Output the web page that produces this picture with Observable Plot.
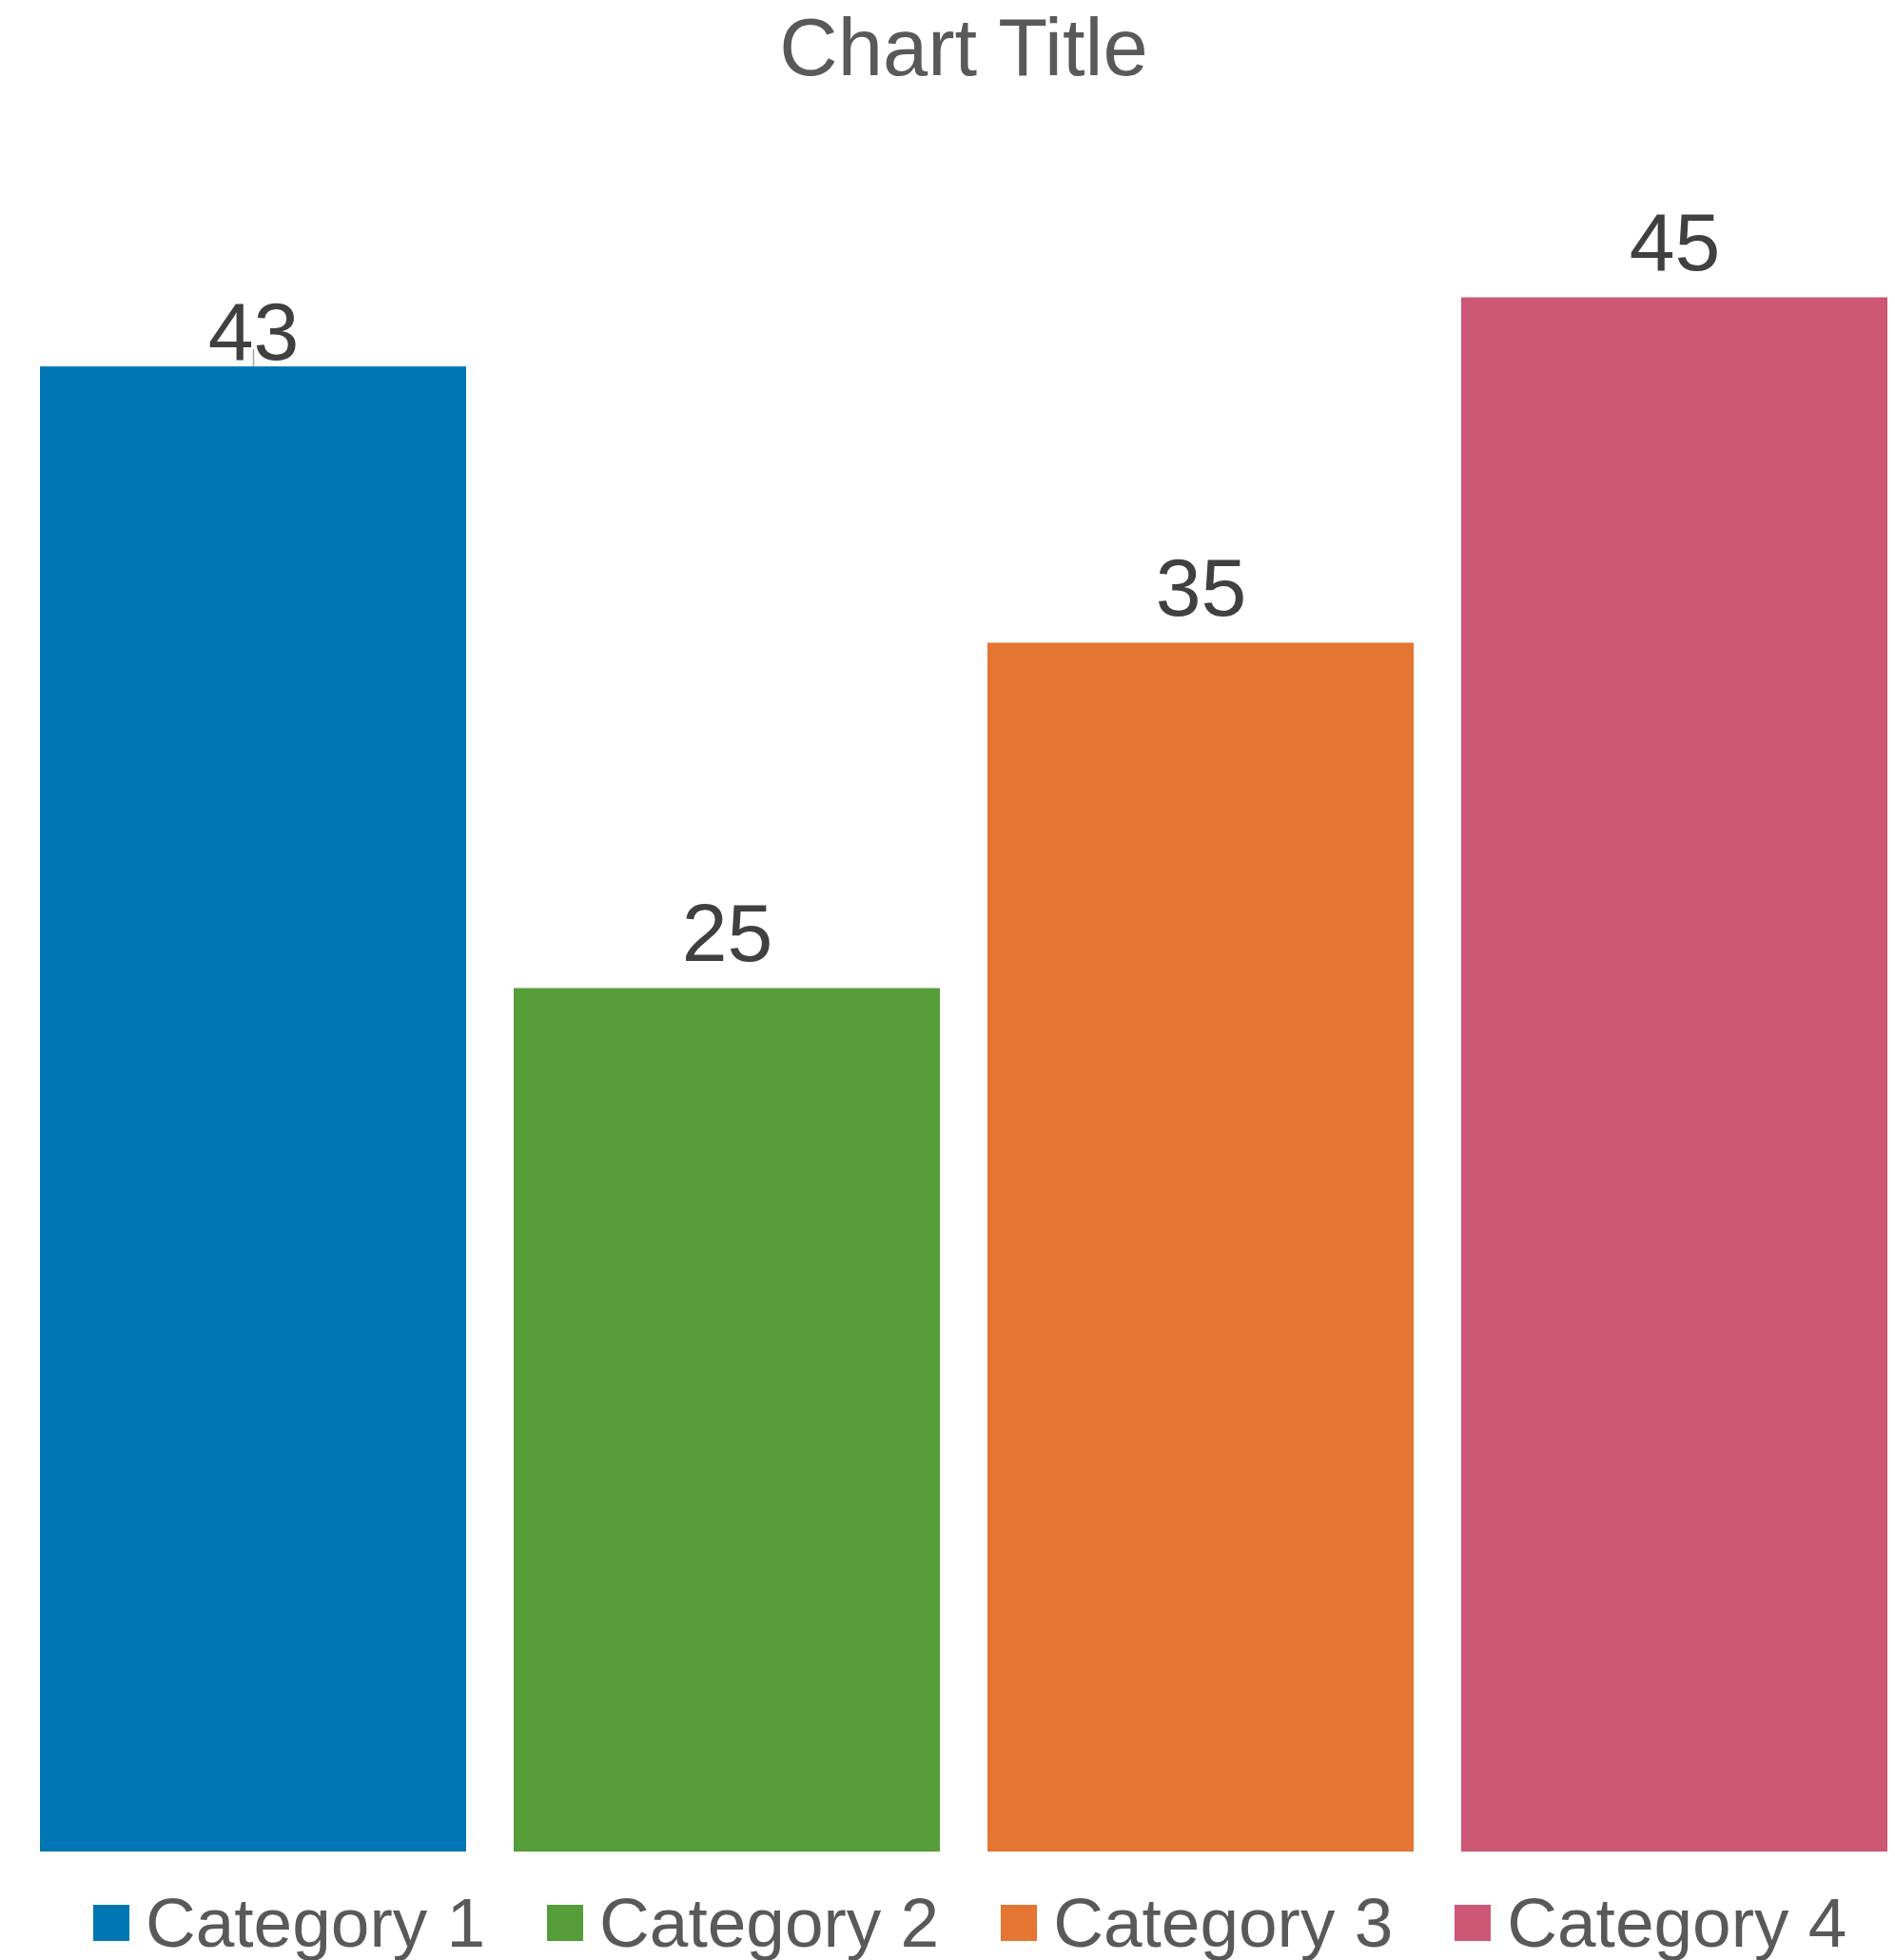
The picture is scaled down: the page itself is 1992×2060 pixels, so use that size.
<!DOCTYPE html>
<html>
<head>
<meta charset="utf-8">
<script src="https://cdn.jsdelivr.net/npm/d3@7"></script>
<script src="https://cdn.jsdelivr.net/npm/@observablehq/plot@0.6"></script>
<style>
  html, body { margin: 0; padding: 0; background: #ffffff; }
  body { width: 1992px; height: 2060px; overflow: hidden; font-family: "Liberation Sans", Arial, sans-serif; }
  #title { position: relative; height: 100px; width: 1992px; }
  #title span { position: absolute; left: 40px; right: 6px; top: 7px; text-align: center;
    font-size: 85px; line-height: 1; color: #595959; white-space: nowrap; }
  #chart svg { display: block; }
  #legend { height: 100px; box-sizing: border-box; padding-left: 98px; padding-top: 21px;
    display: flex; gap: 65px; align-items: center; }
  .item { display: flex; align-items: center; gap: 17px; font-size: 73px; line-height: 1; color: #595959; white-space: nowrap; }
  .sw { width: 38px; height: 38px; flex: none; }
</style>
</head>
<body>
<div id="title"><span>Chart Title</span></div>
<div id="chart"></div>
<div id="legend"></div>
<script>
const categories = ["Category 1", "Category 2", "Category 3", "Category 4"];
const values = [43, 25, 35, 45];
const colors = ["#0077B4", "#559D38", "#E57532", "#CE5775"];

const data = categories.map((c, i) => ({category: c, value: values[i]}));

const plot = Plot.plot({
  width: 1992,
  height: 1860,
  marginLeft: 40,
  marginRight: 6,
  marginTop: 31,
  marginBottom: 14,
  style: {background: "#ffffff", fontFamily: "'Liberation Sans', Arial, sans-serif"},
  x: {domain: categories, paddingInner: 0.1, paddingOuter: 0, axis: null},
  y: {domain: [0, 50], axis: null},
  color: {domain: categories, range: colors},
  marks: [
    Plot.barY(data, {x: "category", y: "value", fill: "category"}),
    Plot.ruleX(data.filter(d => d.category === categories[0]), {
      x: "category", y1: "value", y2: d => d.value + 0.5, stroke: "#a6a6a6", strokeWidth: 1.5
    }),
    Plot.text(data.filter(d => d.category !== categories[0]), {
      x: "category", y: "value", text: d => String(d.value),
      lineAnchor: "bottom", dy: -29.5, fontSize: 86, fill: "#404040"
    }),
    Plot.text(data.filter(d => d.category === categories[0]), {
      x: "category", y: "value", text: d => String(d.value),
      lineAnchor: "bottom", dy: -8, fontSize: 86, fill: "#404040"
    })
  ]
});
document.getElementById("chart").appendChild(plot);

const legend = document.getElementById("legend");
categories.forEach((c, i) => {
  const item = document.createElement("div");
  item.className = "item";
  const sw = document.createElement("span");
  sw.className = "sw";
  sw.style.background = colors[i];
  const t = document.createElement("span");
  t.textContent = c;
  item.appendChild(sw);
  item.appendChild(t);
  legend.appendChild(item);
});
</script>
</body>
</html>
